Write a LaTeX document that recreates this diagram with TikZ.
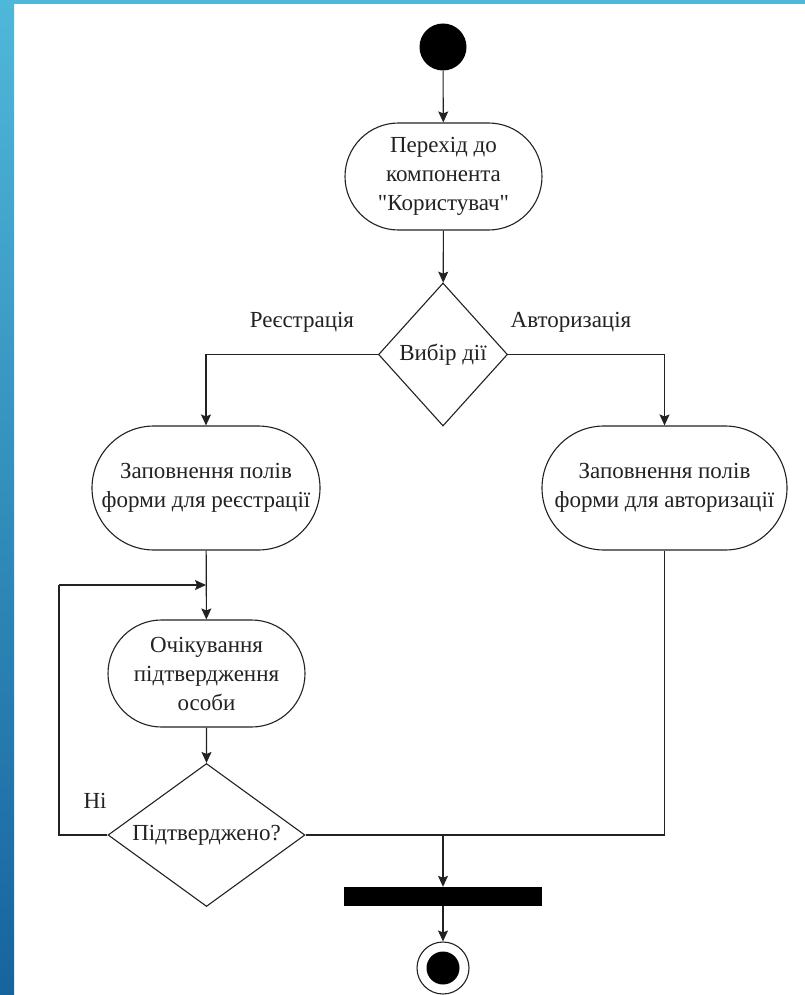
\documentclass[tikz,border=0pt]{standalone}
\usepackage{fontspec}
\setmainfont{Liberation Serif}[Ligatures=TeXOff]
\usetikzlibrary{shapes.geometric,shapes.misc,arrows.meta}
\definecolor{bandtop}{HTML}{4FB8DA}
\definecolor{bandbot}{HTML}{16649E}
\definecolor{linecol}{HTML}{222222}
\begin{document}
\begin{tikzpicture}[x=1pt,y=-1pt,
  act/.style={rounded rectangle, draw=linecol, line width=1.1pt, inner sep=0pt, align=center,
    font=\fontsize{23}{29}\selectfont, text=linecol},
  dec/.style={diamond, draw=linecol, line width=1.1pt, inner sep=0pt, align=center,
    font=\fontsize{23}{29}\selectfont, text=linecol},
  flow/.style={draw=linecol, line width=1.1pt, -{Stealth[length=11pt,width=10pt,inset=2pt]}},
  link/.style={draw=linecol, line width=1.1pt},
  lbl/.style={font=\fontsize{23}{29}\selectfont, text=linecol, inner sep=0pt}
]
\useasboundingbox (0,0) rectangle (805,995);
\fill[white] (0,0) rectangle (805,995);
\fill[bandtop] (0,0) rectangle (805,4);
\shade[top color=bandtop, bottom color=bandbot] (0,0) rectangle (14,995);

% nodes
\node[circle, fill=black, minimum size=47pt, inner sep=0pt] (start) at (443,47) {};
\node[act, minimum width=197pt, minimum height=107pt] (go) at (443.5,176.5)
  {Перехід до\\компонента\\"Користувач"};
\node[dec, aspect=0.9, minimum width=129pt, minimum height=143pt] (choice) at (443,354.5) {Вибір дії};
\node[act, minimum width=228pt, minimum height=124pt] (reg) at (206,488)
  {Заповнення полів\\форми для реєстрації};
\node[act, minimum width=245pt, minimum height=124pt] (auth) at (664.5,488)
  {Заповнення полів\\форми для авторизації};
\node[act, minimum width=197pt, minimum height=107pt] (wait) at (206.5,673.5)
  {Очікування\\підтвердження\\особи};
\node[dec, aspect=1.38, minimum width=197pt, minimum height=143pt] (conf) at (206.5,835) {Підтверджено?};
\node[rectangle, fill=black, minimum width=198pt, minimum height=19pt, inner sep=0pt] (bar) at (443,896.5) {};
\node[circle, draw=linecol, line width=1.1pt, minimum size=52pt, inner sep=0pt] (endo) at (443,968) {};
\node[circle, fill=black, minimum size=33pt, inner sep=0pt] (endi) at (443,968) {};

% labels
\node[lbl] (lreg) at (302,322) {Реєстрація};
\node[lbl] (lauth) at (571,322) {Авторизація};
\node[lbl] (lno) at (95,801) {Ні};

% coordinates
\coordinate (loopL) at (59,585);
\coordinate (loopR) at (206,585);
\coordinate (join) at (443,835);

% connectors
\draw[flow] (start) -- (go);
\draw[flow] (go) -- (choice);
\draw[flow] (choice.west) -| (reg.north);
\draw[flow] (choice.east) -| (auth.north);
\draw[flow] (reg) -- (wait);
\draw[flow] (wait) -- (conf);
\draw[link] (conf.west) -| (loopL);
\draw[flow] (loopL) -- (loopR);
\draw[link] (auth.south) |- (conf.east);
\draw[flow] (join) -- (bar.north);
\draw[flow] (bar.south) -- (endo.north);
\end{tikzpicture}
\end{document}
